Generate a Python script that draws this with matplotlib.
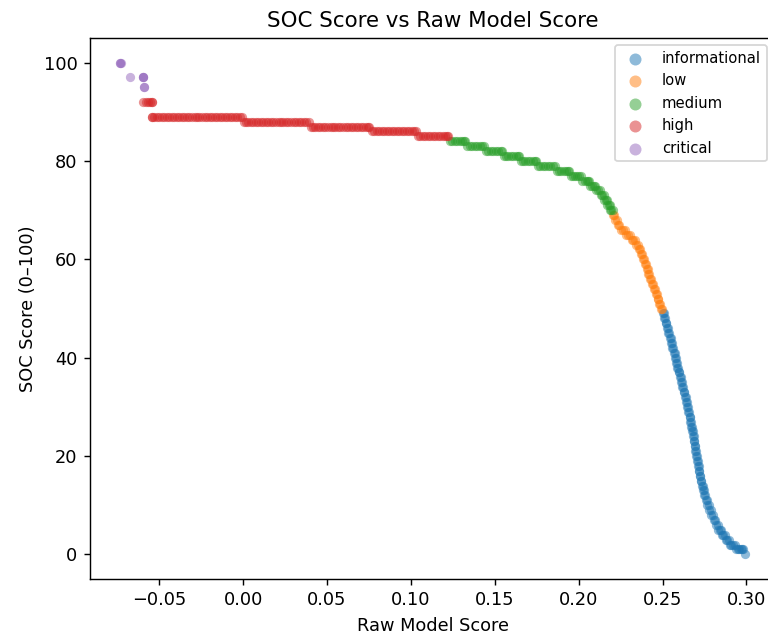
import numpy as np
import matplotlib
matplotlib.use("Agg")
import matplotlib.pyplot as plt

#%% DATA
# each inner list = the raw scores seen at one SOC level

# critical
crit_levels = [100, 97, 95]
crit_x = [[-0.0733, -0.0732, -0.0730],
          [-0.0675, -0.0600, -0.0598, -0.0596],
          [-0.0591, -0.0589]]

# high
high_levels = [92, 89, 88, 87, 86, 85]
high_x = [
    [-0.0598, -0.0582, -0.0568, -0.0555, -0.0545, -0.0543],
    [-0.0543, -0.0542, -0.0530, -0.0515, -0.0500, -0.0486, -0.0470, -0.0456,
     -0.0440, -0.0425, -0.0411, -0.0395, -0.0380, -0.0366, -0.0350, -0.0335,
     -0.0320, -0.0306, -0.0290, -0.0275, -0.0261, -0.0245, -0.0230, -0.0216,
     -0.0200, -0.0185, -0.0170, -0.0156, -0.0140, -0.0125, -0.0111, -0.0095,
     -0.0080, -0.0066, -0.0050, -0.0035, -0.0021, -0.0008],
    [0.0002, 0.0016, 0.0031, 0.0045, 0.0060, 0.0076, 0.0090, 0.0105, 0.0121,
     0.0135, 0.0150, 0.0166, 0.0180, 0.0195, 0.0211, 0.0225, 0.0240, 0.0256,
     0.0270, 0.0285, 0.0301, 0.0315, 0.0330, 0.0346, 0.0360, 0.0375, 0.0390],
    [0.0402, 0.0416, 0.0431, 0.0445, 0.0460, 0.0476, 0.0490, 0.0505, 0.0521,
     0.0535, 0.0550, 0.0566, 0.0580, 0.0595, 0.0611, 0.0625, 0.0640, 0.0656,
     0.0670, 0.0685, 0.0701, 0.0715, 0.0730, 0.0745, 0.0752],
    [0.0765, 0.0780, 0.0795, 0.0810, 0.0826, 0.0840, 0.0855, 0.0871, 0.0885,
     0.0900, 0.0916, 0.0930, 0.0945, 0.0961, 0.0975, 0.0990, 0.1006, 0.1020,
     0.1030],
    [0.1040, 0.1055, 0.1070, 0.1086, 0.1100, 0.1115, 0.1131, 0.1145, 0.1160,
     0.1176, 0.1190, 0.1205, 0.1215, 0.1222],
]

# medium
med_levels = [84, 83, 82, 81, 80, 79, 78, 77, 76, 75, 74, 73, 72, 71, 70]
med_x = [
    [0.1232, 0.1245, 0.1260, 0.1275, 0.1290, 0.1305, 0.1318, 0.1325],
    [0.1335, 0.1350, 0.1365, 0.1380, 0.1395, 0.1410, 0.1425, 0.1438],
    [0.1445, 0.1460, 0.1475, 0.1490, 0.1505, 0.1520, 0.1535, 0.1545],
    [0.1552, 0.1566, 0.1580, 0.1595, 0.1610, 0.1624, 0.1638, 0.1646],
    [0.1654, 0.1668, 0.1682, 0.1697, 0.1712, 0.1726, 0.1740, 0.1748],
    [0.1755, 0.1770, 0.1785, 0.1800, 0.1815, 0.1830, 0.1845, 0.1860],
    [0.1868, 0.1882, 0.1896, 0.1910, 0.1924, 0.1937, 0.1945],
    [0.1952, 0.1965, 0.1978, 0.1991, 0.2004, 0.2015],
    [0.2022, 0.2035, 0.2048, 0.2058, 0.2064],
    [0.2070, 0.2082, 0.2093, 0.2100],
    [0.2106, 0.2116, 0.2124],
    [0.2130, 0.2140, 0.2148],
    [0.2153, 0.2160, 0.2166],
    [0.2170, 0.2178, 0.2184],
    [0.2188, 0.2195, 0.2202],
]

# low
low_levels = [69, 68, 67, 66, 65, 64, 63, 62, 61, 60,
              59, 58, 57, 56, 55, 54, 53, 52, 51, 50]
low_x = [
    [0.2206, 0.2212], [0.2218, 0.2226], [0.2232, 0.2242],
    [0.2250, 0.2262, 0.2274], [0.2284, 0.2296, 0.2306], [0.2315, 0.2326, 0.2336],
    [0.2344, 0.2352], [0.2358, 0.2366], [0.2372, 0.2380], [0.2386, 0.2391],
    [0.2396, 0.2401], [0.2406, 0.2411], [0.2416, 0.2421], [0.2427, 0.2432],
    [0.2438, 0.2443], [0.2449, 0.2454], [0.2460, 0.2465], [0.2470, 0.2475],
    [0.2480, 0.2485], [0.2490, 0.2496],
]

# informational
info_levels = list(range(49, -1, -1))
info_x = [
    [0.2502, 0.2507], [0.2510, 0.2515], [0.2518, 0.2523], [0.2526, 0.2531],
    [0.2534, 0.2539], [0.2543, 0.2548], [0.2551, 0.2556], [0.2558, 0.2563],
    [0.2566, 0.2571], [0.2574, 0.2579], [0.2581, 0.2586], [0.2588, 0.2593],
    [0.2595, 0.2600], [0.2603, 0.2608], [0.2610, 0.2615], [0.2618, 0.2623],
    [0.2625, 0.2630], [0.2632, 0.2637], [0.2639, 0.2644], [0.2647, 0.2652],
    [0.2654, 0.2659], [0.2661, 0.2665], [0.2666, 0.2670], [0.2671, 0.2675],
    [0.2676, 0.2680], [0.2681, 0.2685], [0.2686, 0.2690], [0.2691, 0.2695],
    [0.2696, 0.2700], [0.2701, 0.2705], [0.2706, 0.2710], [0.2711, 0.2715],
    [0.2716, 0.2720], [0.2721, 0.2725], [0.2727, 0.2731], [0.2733, 0.2738],
    [0.2740, 0.2746], [0.2748, 0.2755], [0.2757, 0.2764], [0.2767, 0.2775],
    [0.2778, 0.2787], [0.2791, 0.2800], [0.2804, 0.2813], [0.2818, 0.2828],
    [0.2832, 0.2840, 0.2849], [0.2853, 0.2862, 0.2871], [0.2876, 0.2885, 0.2895],
    [0.2900, 0.2910, 0.2920, 0.2930],
    [0.2938, 0.2947, 0.2956, 0.2965, 0.2974, 0.2982],
    [0.2990],
]

severities = ["informational", "low", "medium", "high", "critical"]
all_levels = [info_levels, low_levels, med_levels, high_levels, crit_levels]
all_x = [info_x, low_x, med_x, high_x, crit_x]

#%% PLOT
fig = plt.figure(figsize=(768 / 128, 638 / 128), dpi=128)
ax = fig.add_axes([90 / 768, 59 / 638, 686 / 768, 541 / 638])

for sev, levels, xl in zip(severities, all_levels, all_x):
    x = np.concatenate([np.array(v) for v in xl])
    y = np.concatenate([np.full(len(v), lev) for lev, v in zip(levels, xl)])
    ax.scatter(x, y, s=27, alpha=0.5, linewidths=0, label=sev)

ax.set_xlim(-0.0913, 0.3176)
ax.set_ylim(-5, 105)
ax.set_title("SOC Score vs Raw Model Score")
ax.set_xlabel("Raw Model Score")
ax.set_ylabel("SOC Score (0\u2013100)")
ax.legend(loc="upper right", fontsize="small", markerscale=1.3,
          bbox_to_anchor=(767 / 768, 593 / 638), bbox_transform=fig.transFigure,
          borderaxespad=0)

fig.savefig("out.png", dpi=128)
